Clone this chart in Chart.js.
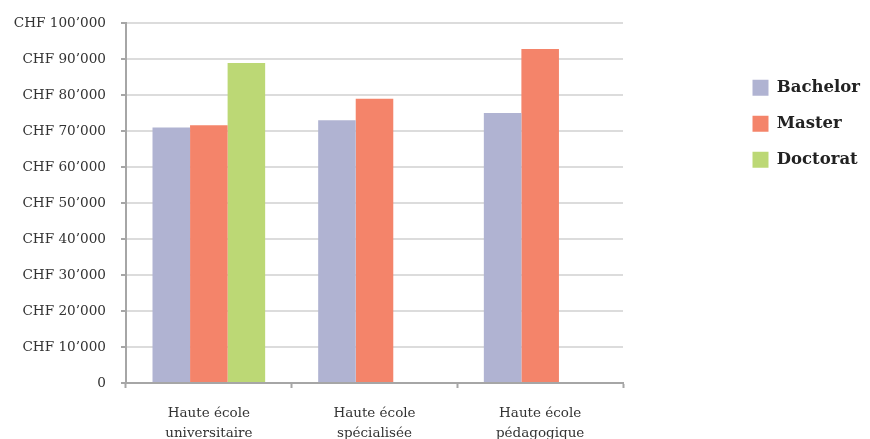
<!DOCTYPE html>
<html>
<head>
<meta charset="utf-8">
<script src="https://cdn.jsdelivr.net/npm/chart.js@4/dist/chart.umd.min.js"></script>
<style>
  html, body { margin: 0; padding: 0; background: #fff; overflow: hidden; }
  #wrap { width: 870px; height: 446px; position: relative; }
</style>
</head>
<body>
<div id="wrap"><canvas id="salaryChart"></canvas></div>
<script>
// categories (two-line labels) and values per degree
var categories = [
  ['Haute école', 'universitaire'],
  ['Haute école', 'spécialisée'],
  ['Haute école', 'pédagogique']
];
var bachelor = [71000, 73000, 75000];
var master = [71600, 79000, 92800];
var doctorat = [88900, null, null];
var yTicks = [0, 10000, 20000, 30000, 40000, 50000, 60000, 70000, 80000, 90000, 100000];

document.addEventListener('DOMContentLoaded', function () {
  var ctx = document.getElementById('salaryChart').getContext('2d');
  var textColor = '#333333';
  var axisGray = '#a6a6a6';

  function chf(v) {
    if (v === 0) return '0';
    var s = String(v).replace(/\B(?=(\d{3})+(?!\d))/g, '\u2019');
    return 'CHF ' + s;
  }

  // widen the legend box so the plot ends where it does in the original,
  // then nudge the legend items into place
  var legendPlace = {
    id: 'legendPlace',
    beforeLayout: function (chart) {
      var lg = chart.legend;
      if (lg && !lg._patched) {
        var fit = lg.fit;
        lg.fit = function () { fit.call(this); this.width = 247; };
        lg._patched = true;
      }
    },
    afterLayout: function (chart) {
      var lg = chart.legend;
      lg.left = chart.chartArea.right + 110;
      lg.right = lg.left + 137;
      lg.top = 60;
    }
  };

  new Chart(ctx, {
    type: 'bar',
    data: {
      labels: categories,
      datasets: [
        { label: 'Bachelor', data: bachelor, backgroundColor: '#b0b3d2' },
        { label: 'Master', data: master, backgroundColor: '#f4846a' },
        { label: 'Doctorat', data: doctorat, backgroundColor: '#bcd875' }
      ]
    },
    options: {
      responsive: true,
      maintainAspectRatio: false,
      animation: false,
      categoryPercentage: 0.68,
      barPercentage: 1.0,
      layout: { padding: { top: 17, left: 0, right: 0, bottom: 0 } },
      plugins: {
        legend: {
          position: 'right',
          align: 'start',
          labels: {
            boxWidth: 16,
            boxHeight: 16,
            padding: 19.5,
            color: '#222222',
            font: { family: 'DejaVu Serif', size: 16.5, weight: 'bold' }
          }
        },
        tooltip: { enabled: false }
      },
      scales: {
        x: {
          afterFit: function (scale) { scale.height = 63; },
          grid: {
            display: true,
            drawOnChartArea: false,
            tickLength: 5,
            tickColor: axisGray,
            tickWidth: 2
          },
          border: { color: axisGray, width: 2 },
          ticks: {
            color: textColor,
            padding: 15,
            maxRotation: 0,
            font: { family: 'DejaVu Serif', size: 13.5, lineHeight: 1.5 }
          }
        },
        y: {
          min: 0,
          max: 100000,
          afterBuildTicks: function (scale) {
            scale.ticks = yTicks.map(function (v) { return { value: v }; });
          },
          afterFit: function (scale) { scale.width = 126; },
          grid: {
            color: '#dcdcdc',
            lineWidth: 2,
            tickLength: 5,
            tickColor: axisGray,
            tickWidth: 2
          },
          border: { color: axisGray, width: 2 },
          ticks: {
            color: textColor,
            padding: 15,
            callback: function (v) { return chf(v); },
            font: { family: 'DejaVu Serif', size: 13.6 }
          }
        }
      }
    },
    plugins: [legendPlace]
  });
});
</script>
</body>
</html>
